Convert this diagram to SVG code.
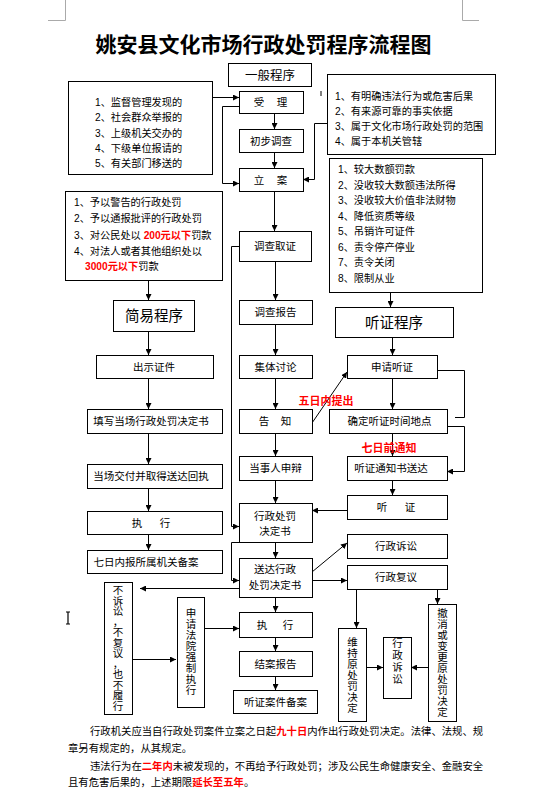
<svg xmlns="http://www.w3.org/2000/svg" width="547" height="803" viewBox="0 0 547 803">
<defs>
<marker id="ah" viewBox="0 0 10 10" refX="10" refY="5" markerWidth="6" markerHeight="6" markerUnits="userSpaceOnUse" orient="auto">
<path d="M0,0 L10,5 L0,10 z" fill="#000"/>
</marker>
</defs>
<style>
.bx{fill:#fff;stroke:#000;stroke-width:1}
.t{font-family:"Liberation Sans","Noto Sans CJK SC",sans-serif;font-size:10.5px;fill:#000}
.c{text-anchor:middle}
.l{font-size:10.2px}
.big{font-size:14.5px}
.red{fill:#f00;font-weight:bold}
.ln{fill:none;stroke:#000;stroke-width:1}
.ar{fill:none;stroke:#000;stroke-width:1;marker-end:url(#ah)}
.mk{fill:none;stroke:#aaa;stroke-width:1}
</style>
<rect width="547" height="803" fill="#fff"/>
<g id="marks">
<path class="mk" d="M65.5,0 V20.5 H48 M462.5,0 V20.5 H479"/>
<path d="M321,91 V96" stroke="#000" stroke-width="1"/>
<path d="M68,612 V624 M66,612 H70 M66,624 H70" stroke="#000" stroke-width="1.2"/>
</g>
<text id="title" class="t c" x="263.5" y="52" style="font-size:21px;font-weight:bold">姚安县文化市场行政处罚程序流程图</text>

<g id="connectors">
<path class="ar" d="M212,97.5 H239"/>
<path class="ar" d="M274.5,113 V129"/>
<path class="ar" d="M274.5,152 V168"/>
<path class="ar" d="M239,106.5 H222.5 V183.5 H239"/>
<path class="ar" d="M327,123.5 H314.5 V179.5 H303"/>
<path class="ar" d="M274.5,191 V231"/>
<path class="ar" d="M239,246.5 H231.5 V526.5 H239"/>
<path class="ar" d="M275.5,261 V300"/>
<path class="ar" d="M275.5,324 V355"/>
<path class="ar" d="M275.5,378 V409"/>
<path class="ar" d="M275.5,433 V456"/>
<path class="ar" d="M275.5,480 V503"/>
<path class="ar" d="M275.5,542 V558"/>
<path class="ar" d="M239,542.5 H231.5 V580.5 H239"/>
<path class="ar" d="M312,423 L347,372"/>
<path class="ar" d="M390.5,292 V307"/>
<path class="ar" d="M392.5,337 V355"/>
<path class="ar" d="M392.5,378 V409"/>
<path class="ln" d="M437,370.5 H464.5 V417.5 H455"/>
<path class="ar" d="M447,426.5 H464.5 V471.5 H447"/>
<path class="ar" d="M392.5,433 V456"/>
<path class="ar" d="M392.5,480 V495"/>
<path class="ar" d="M347,510.5 H312"/>
<path class="ar" d="M312,572 L347,543"/>
<path class="ar" d="M312,580.5 H347"/>
<path class="ar" d="M239,588.5 H140"/>
<path class="ar" d="M356.5,589 V628"/>
<path class="ar" d="M437.5,589 V604"/>
<path class="ar" d="M366,667.5 H383"/>
<path class="ar" d="M428,667.5 H411"/>
<path class="ar" d="M132,659.5 H176"/>
<path class="ar" d="M204,628.5 H239"/>
<path class="ar" d="M275.5,597 V612"/>
<path class="ar" d="M275.5,637 V651"/>
<path class="ar" d="M275.5,676 V690"/>
<path class="ar" d="M148.5,272 V300"/>
<path class="ar" d="M148.5,331 V355"/>
<path class="ar" d="M148.5,378 V409"/>
<path class="ar" d="M148.5,433 V464"/>
<path class="ar" d="M148.5,488 V511"/>
<path class="ar" d="M148.5,534 V550"/>
</g>

<g id="n_general"><rect class="bx" x="228.5" y="63.5" width="83" height="23"/><text class="t c" x="270" y="79.5" style="font-size:12.5px">一般程序</text></g>
<g id="n_sources"><rect class="bx" x="68.5" y="81.5" width="144" height="93"/>
<text class="t l" x="95" y="106">1、监督管理发现的</text>
<text class="t l" x="95" y="121">2、社会群众举报的</text>
<text class="t l" x="95" y="136.5">3、上级机关交办的</text>
<text class="t l" x="95" y="151.5">4、下级单位报请的</text>
<text class="t l" x="95" y="167">5、有关部门移送的</text></g>
<g id="n_shouli"><rect class="bx" x="239.5" y="91.5" width="64" height="22"/><text class="t c" y="106"><tspan x="259">受</tspan><tspan x="282">理</tspan></text></g>
<g id="n_conditions"><rect class="bx" x="327.5" y="74.5" width="168" height="80"/>
<text class="t l" x="335" y="100">1、有明确违法行为或危害后果</text>
<text class="t l" x="335" y="115">2、有来源可靠的事实依据</text>
<text class="t l" x="335" y="130">3、属于文化市场行政处罚的范围</text>
<text class="t l" x="335" y="145">4、属于本机关管辖</text></g>
<g id="n_chubu"><rect class="bx" x="239.5" y="129.5" width="64" height="23"/><text class="t c" x="271" y="144.5">初步调查</text></g>
<g id="n_lian"><rect class="bx" x="239.5" y="168.5" width="64" height="23"/><text class="t c" y="183.5"><tspan x="259">立</tspan><tspan x="282">案</tspan></text></g>
<g id="n_simple_list"><rect class="bx" x="65.5" y="191.5" width="157" height="89"/>
<text class="t l" x="74" y="206">1、予以警告的行政处罚</text>
<text class="t l" x="74" y="222">2、予以通报批评的行政处罚</text>
<text class="t l" x="74" y="239">3、对公民处以 <tspan class="red">200元以下</tspan>罚款</text>
<text class="t l" x="74" y="255">4、对法人或者其他组织处以</text>
<text class="t l" x="85" y="270"><tspan class="red">3000元以下</tspan>罚款</text></g>
<g id="n_hearing_list"><rect class="bx" x="329.5" y="158.5" width="153" height="134"/>
<text class="t l" x="338" y="173">1、较大数额罚款</text>
<text class="t l" x="338" y="188.5">2、没收较大数额违法所得</text>
<text class="t l" x="338" y="204">3、没收较大价值非法财物</text>
<text class="t l" x="338" y="219.5">4、降低资质等级</text>
<text class="t l" x="338" y="235">5、吊销许可证件</text>
<text class="t l" x="338" y="250.5">6、责令停产停业</text>
<text class="t l" x="338" y="266">7、责令关闭</text>
<text class="t l" x="338" y="281.5">8、限制从业</text></g>
<g id="n_diaocha"><rect class="bx" x="239.5" y="231.5" width="72" height="30"/><text class="t c" x="275" y="250">调查取证</text></g>
<g id="n_baogao"><rect class="bx" x="239.5" y="300.5" width="73" height="24"/><text class="t c" x="275.5" y="316">调查报告</text></g>
<g id="n_jianyi"><rect class="bx" x="113.5" y="300.5" width="81" height="31"/><text class="t c big" x="154" y="321">简易程序</text></g>
<g id="n_tingzheng"><rect class="bx" x="335.5" y="307.5" width="118" height="30"/><text class="t c big" x="394" y="327.5">听证程序</text></g>
<g id="n_chushi"><rect class="bx" x="96.5" y="355.5" width="117" height="23"/><text class="t c" x="154" y="370.5">出示证件</text></g>
<g id="n_jiti"><rect class="bx" x="239.5" y="355.5" width="73" height="23"/><text class="t c" x="275.5" y="370.5">集体讨论</text></g>
<g id="n_shenqing"><rect class="bx" x="347.5" y="355.5" width="90" height="23"/><text class="t c" x="392" y="370.5">申请听证</text></g>
<text class="t c red" x="326" y="405" style="font-size:11px">五日内提出</text>
<g id="n_tianxie"><rect class="bx" x="87.5" y="409.5" width="135" height="24"/><text class="t c" x="151" y="425">填写当场行政处罚决定书</text></g>
<g id="n_gaozhi"><rect class="bx" x="239.5" y="409.5" width="73" height="24"/><text class="t c" y="425"><tspan x="264">告</tspan><tspan x="286">知</tspan></text></g>
<g id="n_queding"><rect class="bx" x="329.5" y="409.5" width="118" height="24"/><text class="t c" x="389.5" y="425">确定听证时间地点</text></g>
<text class="t c red" x="389" y="452" style="font-size:11px">七日前通知</text>
<g id="n_jiaofu"><rect class="bx" x="87.5" y="464.5" width="135" height="24"/><text class="t c" x="151" y="480">当场交付并取得送达回执</text></g>
<g id="n_shenbian"><rect class="bx" x="239.5" y="456.5" width="73" height="24"/><text class="t c" x="275.5" y="472">当事人申辩</text></g>
<g id="n_tongzhi"><rect class="bx" x="347.5" y="456.5" width="100" height="24"/><text class="t c" x="391" y="472">听证通知书送达</text></g>
<g id="n_ting"><rect class="bx" x="347.5" y="495.5" width="100" height="24"/><text class="t c" y="511"><tspan x="382">听</tspan><tspan x="410">证</tspan></text></g>
<g id="n_zhixing1"><rect class="bx" x="87.5" y="511.5" width="135" height="23"/><text class="t c" y="527"><tspan x="137">执</tspan><tspan x="165">行</tspan></text></g>
<g id="n_jueding"><rect class="bx" x="239.5" y="503.5" width="73" height="39"/><text class="t c" x="275" y="520">行政处罚</text><text class="t c" x="275" y="535">决定书</text></g>
<g id="n_susong1"><rect class="bx" x="347.5" y="534.5" width="100" height="24"/><text class="t c" x="396" y="550">行政诉讼</text></g>
<g id="n_beian1"><rect class="bx" x="87.5" y="550.5" width="135" height="23"/><text class="t c" x="146" y="566">七日内报所属机关备案</text></g>
<g id="n_songda"><rect class="bx" x="239.5" y="558.5" width="73" height="39"/><text class="t c" x="275" y="573">送达行政</text><text class="t c" x="275" y="589">处罚决定书</text></g>
<g id="n_fuyi"><rect class="bx" x="347.5" y="565.5" width="100" height="24"/><text class="t c" x="396" y="581">行政复议</text></g>
<g id="n_busu"><rect class="bx" x="104.5" y="582.5" width="28" height="132"/>
<text class="t c"><tspan x="118" y="594">不</tspan><tspan x="118" y="604.5">诉</tspan><tspan x="118" y="615">讼</tspan><tspan x="118" y="625.5">，</tspan><tspan x="118" y="636">不</tspan><tspan x="118" y="646.5">复</tspan><tspan x="118" y="657">议</tspan><tspan x="118" y="667.5">，</tspan><tspan x="118" y="678">也</tspan><tspan x="118" y="688.5">不</tspan><tspan x="118" y="699">履</tspan><tspan x="118" y="709.5">行</tspan></text></g>
<g id="n_qiangzhi"><rect class="bx" x="177.5" y="597.5" width="27" height="110"/>
<text class="t c"><tspan x="191" y="617">申</tspan><tspan x="191" y="628">请</tspan><tspan x="191" y="639">法</tspan><tspan x="191" y="650">院</tspan><tspan x="191" y="661">强</tspan><tspan x="191" y="672">制</tspan><tspan x="191" y="683">执</tspan><tspan x="191" y="694">行</tspan></text></g>
<g id="n_zhixing2"><rect class="bx" x="239.5" y="612.5" width="73" height="25"/><text class="t c" y="628.5"><tspan x="262">执</tspan><tspan x="288">行</tspan></text></g>
<g id="n_jiean"><rect class="bx" x="239.5" y="651.5" width="73" height="25"/><text class="t c" x="275.5" y="667.5">结案报告</text></g>
<g id="n_beian2"><rect class="bx" x="233.5" y="690.5" width="84" height="23"/><text class="t c" x="275.5" y="706">听证案件备案</text></g>
<g id="n_weichi"><rect class="bx" x="338.5" y="628.5" width="28" height="93"/>
<text class="t c"><tspan x="352.5" y="646">维</tspan><tspan x="352.5" y="657">持</tspan><tspan x="352.5" y="668">原</tspan><tspan x="352.5" y="679">处</tspan><tspan x="352.5" y="690">罚</tspan><tspan x="352.5" y="701">决</tspan><tspan x="352.5" y="712">定</tspan></text></g>
<g id="n_susong2"><rect class="bx" x="383.5" y="637.5" width="28" height="61"/>
<text class="t c"><tspan x="397.5" y="647">行</tspan><tspan x="397.5" y="659">政</tspan><tspan x="397.5" y="671">诉</tspan><tspan x="397.5" y="683">讼</tspan></text></g>
<g id="n_chexiao"><rect class="bx" x="428.5" y="604.5" width="28" height="117"/>
<text class="t c"><tspan x="442.5" y="617">撤</tspan><tspan x="442.5" y="628">消</tspan><tspan x="442.5" y="639">或</tspan><tspan x="442.5" y="650">变</tspan><tspan x="442.5" y="661">更</tspan><tspan x="442.5" y="672">原</tspan><tspan x="442.5" y="683">处</tspan><tspan x="442.5" y="694">罚</tspan><tspan x="442.5" y="705">决</tspan><tspan x="442.5" y="716">定</tspan></text></g>

<g id="notes" class="t" style="font-size:10.35px">
<text class="t" x="90" y="735" style="font-size:10.35px">行政机关应当自行政处罚案件立案之日起<tspan class="red">九十日</tspan>内作出行政处罚决定。法律、法规、规</text>
<text class="t" x="68" y="752" style="font-size:10.35px">章另有规定的，从其规定。</text>
<text class="t" x="90" y="770" style="font-size:10.35px">违法行为在<tspan class="red">二年内</tspan>未被发现的，不再给予行政处罚；涉及公民生命健康安全、金融安全</text>
<text class="t" x="68" y="786" style="font-size:10.35px">且有危害后果的，上述期限<tspan class="red">延长至五年</tspan>。</text>
</g>
</svg>
